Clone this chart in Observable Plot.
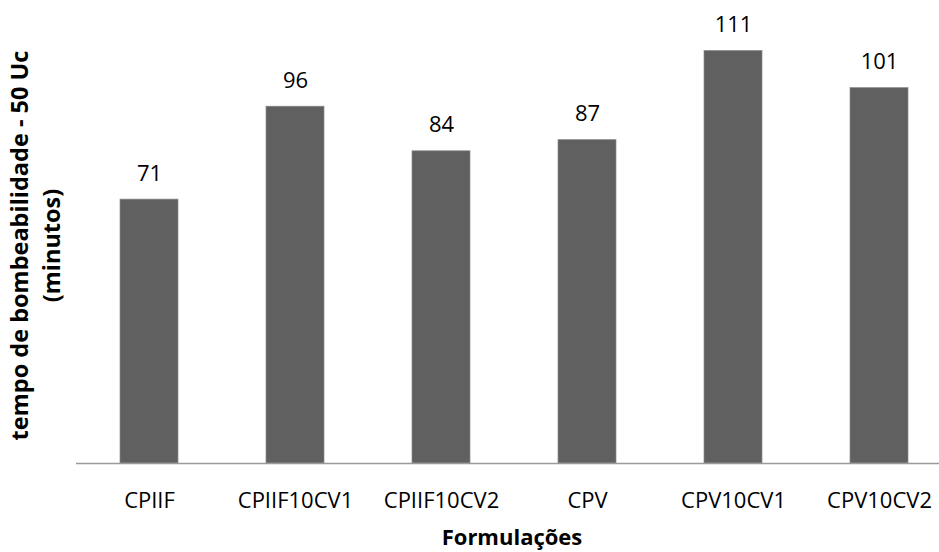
<!DOCTYPE html>
<html>
<head>
<meta charset="utf-8">
<script src="https://cdn.jsdelivr.net/npm/d3@7"></script>
<script src="https://cdn.jsdelivr.net/npm/@observablehq/plot@0.6"></script>
<style>
  html, body { margin: 0; padding: 0; background: #fff; }
  #chart svg { display: block; }
</style>
</head>
<body>
<div id="chart"></div>
<script>
const categories = ["CPIIF", "CPIIF10CV1", "CPIIF10CV2", "CPV", "CPV10CV1", "CPV10CV2"];
const values = [71, 96, 84, 87, 111, 101];
const xTitle = "Formulações";
const yTitle = "tempo de bombeabilidade - 50 Uc\n(minutos)";

const data = categories.map((c, i) => ({category: c, value: values[i]}));
const font = "'Open Sans', Lato, sans-serif";

const chart = Plot.plot({
  width: 939,
  height: 552,
  marginLeft: 76,
  marginRight: 0,
  marginTop: 17,
  marginBottom: 89,
  style: {fontFamily: font, background: "#fff", color: "#000"},
  x: {domain: categories, range: [76, 952], paddingInner: 0.6, paddingOuter: 0.3},
  y: {domain: [0, 120], axis: null},
  marks: [
    Plot.barY(data, {x: "category", y: "value", fill: "#606060", stroke: "#8a8a8a", strokeWidth: 0.7}),
    Plot.ruleY([0], {stroke: "#9a9a9a", strokeWidth: 1.3}),
    Plot.text(data, {x: "category", y: "value", text: d => String(d.value), dy: -26, fontSize: 22, fill: "#000"}),
    Plot.axisX({tickSize: 0, tickPadding: 29, fontSize: 22, label: null, fill: "#000"}),
    Plot.text([xTitle], {frameAnchor: "bottom", lineAnchor: "middle", dx: 4, dy: 74, fontSize: 22, fontWeight: "bold", fill: "#000"}),
    Plot.text([yTitle], {frameAnchor: "left", textAnchor: "middle", lineAnchor: "middle", dx: -43, dy: 5, rotate: -90, fontSize: 23.5, fontWeight: "bold", lineHeight: 1.38, fill: "#000"})
  ]
});
document.getElementById("chart").appendChild(chart);
</script>
</body>
</html>
